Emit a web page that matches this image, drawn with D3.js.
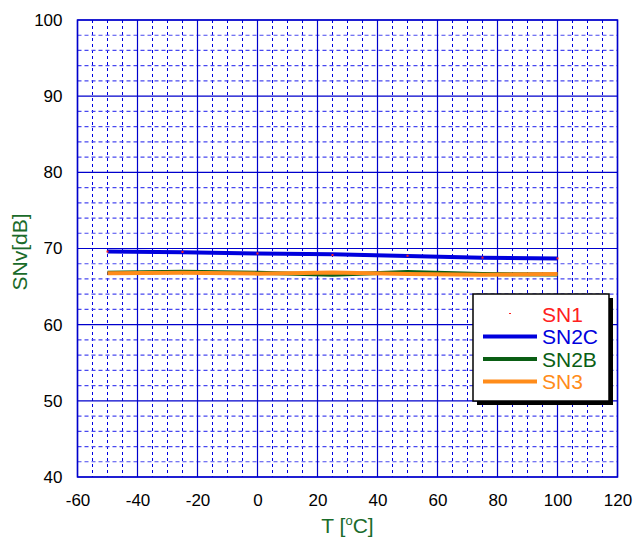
<!DOCTYPE html>
<html><head><meta charset="utf-8">
<script src="https://cdn.jsdelivr.net/npm/d3@7"></script>
<style>body{margin:0;background:#fff;}svg{display:block;font-family:"Liberation Sans",Arial,sans-serif;}</style>
</head><body><svg id="c" width="638" height="540"></svg>
<script>
const temps = [-50, -25, 0, 25, 50, 75, 100];
const sn1  = [69.6, 69.55, 69.35, 69.15, 69.05, 68.8, 68.7];
const sn2c = [69.6, 69.5, 69.35, 69.25, 69.0, 68.8, 68.7];
const sn2b = [66.8, 66.95, 66.8, 66.55, 66.9, 66.65, 66.6];
const sn3  = [66.75, 66.8, 66.7, 66.85, 66.65, 66.55, 66.65];
const xTicks = [-60, -40, -20, 0, 20, 40, 60, 80, 100, 120];
const yTicks = [40, 50, 60, 70, 80, 90, 100];
const seriesNames = ["SN1", "SN2C", "SN2B", "SN3"];
const seriesColors = ["#ff2020", "#0000dd", "#0a5e14", "#ff8c1a"];

const svg = d3.select("#c");
const L = 77.5, R = 617.5, T = 20, B = 477;
const x = d3.scaleLinear().domain([-60, 120]).range([L, R]);
const y = d3.scaleLinear().domain([40, 100]).range([B, T]);

// minor grid
const g = svg.append("g");
g.selectAll(".mx").data(d3.range(-55, 120, 5).filter(v => v % 20 !== 0)).join("line")
  .attr("x1", d => x(d)).attr("x2", d => x(d)).attr("y1", T).attr("y2", B)
  .attr("stroke", "#0000e0").attr("stroke-width", 1).attr("stroke-dasharray", "3,3");
g.selectAll(".my").data(d3.range(42, 100, 2).filter(v => v % 10 !== 0)).join("line")
  .attr("x1", L).attr("x2", R).attr("y1", d => y(d)).attr("y2", d => y(d))
  .attr("stroke", "#4848f0").attr("stroke-width", 1.2).attr("stroke-dasharray", "4,3");
// major grid
g.selectAll(".Mx").data(xTicks).join("line")
  .attr("x1", d => x(d)).attr("x2", d => x(d)).attr("y1", T).attr("y2", B)
  .attr("stroke", "#0000cc").attr("stroke-width", 1.2);
g.selectAll(".My").data(yTicks).join("line")
  .attr("x1", L).attr("x2", R).attr("y1", d => y(d)).attr("y2", d => y(d))
  .attr("stroke", "#0000cc").attr("stroke-width", 1.2);
svg.append("rect").attr("x", L).attr("y", T).attr("width", R - L).attr("height", B - T)
  .attr("fill", "none").attr("stroke", "#0000cc").attr("stroke-width", 1.5);

// axes labels via d3 axes (no lines)
const xa = svg.append("g").attr("transform", `translate(0,${B})`)
  .call(d3.axisBottom(x).tickValues(xTicks).tickFormat(d => String(d)).tickSize(0).tickPadding(17));
const ya = svg.append("g").attr("transform", `translate(${L},0)`)
  .call(d3.axisLeft(y).tickValues(yTicks).tickFormat(d => String(d)).tickSize(0).tickPadding(15));
[xa, ya].forEach(a => {
  a.select(".domain").remove();
  a.selectAll("text").attr("font-size", 17).attr("fill", "#000")
    .attr("font-family", "Liberation Sans, Arial, sans-serif");
});

// lines
const line = d3.line().x((d, i) => x(temps[i])).y(d => y(d));
svg.append("path").datum(sn2b).attr("d", line).attr("fill", "none").attr("stroke", seriesColors[2]).attr("stroke-width", 4);
svg.append("path").datum(sn3).attr("d", line).attr("fill", "none").attr("stroke", seriesColors[3]).attr("stroke-width", 4);
svg.append("path").datum(sn2c).attr("d", line).attr("fill", "none").attr("stroke", seriesColors[1]).attr("stroke-width", 4);
svg.selectAll(".sn1").data(sn1).join("rect")
  .attr("x", (d, i) => x(temps[i]) - 1).attr("y", d => y(d) - 1)
  .attr("width", 2).attr("height", 2).attr("fill", seriesColors[0]);

// axis titles
svg.append("text").attr("x", (L + R) / 2).attr("y", 533).attr("text-anchor", "middle")
  .attr("font-size", 21).attr("fill", "#1a6b2a")
  .html('T [<tspan font-size="13" dy="-8">o</tspan><tspan dy="8">C]</tspan>');
svg.append("text").attr("transform", "translate(27,252) rotate(-90)").attr("text-anchor", "middle")
  .attr("font-size", 21).attr("fill", "#1a6b2a").text("SNv[dB]");

// legend
const lg = svg.append("g");
lg.append("rect").attr("x", 477).attr("y", 298).attr("width", 136).attr("height", 107).attr("fill", "#000");
lg.append("rect").attr("x", 473).attr("y", 294).attr("width", 136).attr("height", 107)
  .attr("fill", "#fff").attr("stroke", "#000").attr("stroke-width", 1.5);
seriesNames.forEach((n, i) => {
  const yy = 314 + i * 22.5;
  if (i === 0) {
    lg.append("rect").attr("x", 509).attr("y", yy - 1).attr("width", 2).attr("height", 1).attr("fill", seriesColors[0]);
  } else {
    lg.append("line").attr("x1", 483).attr("x2", 537).attr("y1", yy).attr("y2", yy)
      .attr("stroke", seriesColors[i]).attr("stroke-width", 4);
  }
  lg.append("text").attr("x", 542).attr("y", yy + 7.5).attr("font-size", 21)
    .attr("fill", seriesColors[i]).text(n);
});
</script></body></html>
